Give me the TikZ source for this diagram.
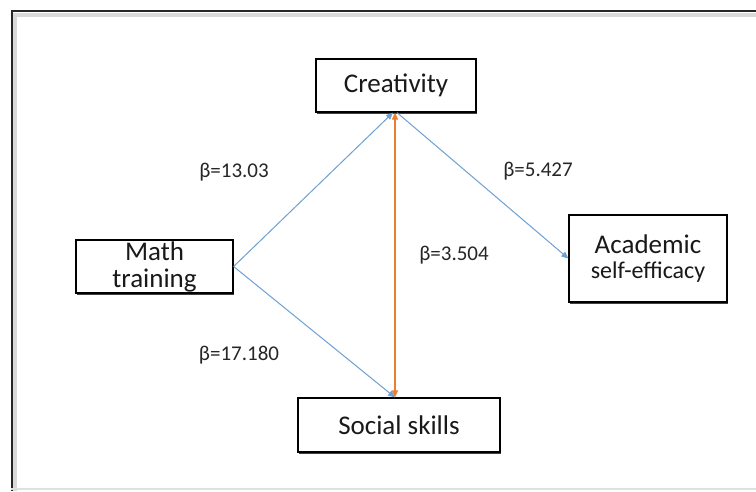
\documentclass[tikz,border=0pt]{standalone}
\usepackage{fontspec}
\setmainfont{Carlito}
\usetikzlibrary{arrows.meta,shadows}
\definecolor{arrblue}{RGB}{110,160,210}
\definecolor{arrorange}{RGB}{237,125,49}
\tikzset{
  boxnode/.style={draw=black, line width=1.2pt, fill=white, align=center, inner sep=0pt,
    font=\fontsize{27}{27}\selectfont, text=black!90,
    drop shadow={shadow xshift=1.2pt, shadow yshift=-1.5pt, fill=black!75, opacity=1}},
  bluearrow/.style={draw=arrblue, line width=1pt, -{Triangle[length=7pt,width=6pt]}},
  orangearrow/.style={draw=arrorange, line width=1.2pt, {Triangle[length=7pt,width=6pt]}-{Triangle[length=7pt,width=6pt]}},
  lbl/.style={font=\fontsize{21}{24}\selectfont, text=black!85}
}
\begin{document}
\begin{tikzpicture}[x=1pt,y=-1pt]
\useasboundingbox (0,0) rectangle (756,491);
\fill[white] (0,0) rectangle (756,491);
% frame
\draw[black!15, line width=4pt] (15,491) -- (15,15) -- (756,15);
\draw[black!85, line width=2pt] (11.5,491) -- (11.5,11) -- (756,11);
\draw[black!12, line width=1.5pt] (11,489) -- (756,489);

\node[boxnode, minimum width=160pt, minimum height=53pt] (cre) at (396,85.5) {Creativity};
\node[boxnode, minimum width=157pt, minimum height=53pt] (math) at (154.5,266.5) {Math\\training};
\node[boxnode, minimum width=202pt, minimum height=54pt] (soc) at (399,425) {Social skills};
\node[boxnode, minimum width=158pt, minimum height=87pt, font=\fontsize{27}{25}\selectfont] (aca) at (648,258.5) {Academic\\{\fontsize{24}{25}\selectfont self-efficacy}};

\draw[bluearrow] (math.east) -- ([xshift=-3pt]cre.south);
\draw[bluearrow] ([xshift=1pt]cre.south) -- (aca.west);
\draw[bluearrow] (math.east) -- ([xshift=-4pt]soc.north);
\draw[orangearrow] ([xshift=-1pt]cre.south) -- ([xshift=-4pt]soc.north);

\node[lbl] (l1) at (234,172) {β=13.03};
\node[lbl] (l2) at (538,171) {β=5.427};
\node[lbl] (l3) at (454,255) {β=3.504};
\node[lbl] (l4) at (239,355) {β=17.180};
\end{tikzpicture}
\end{document}
